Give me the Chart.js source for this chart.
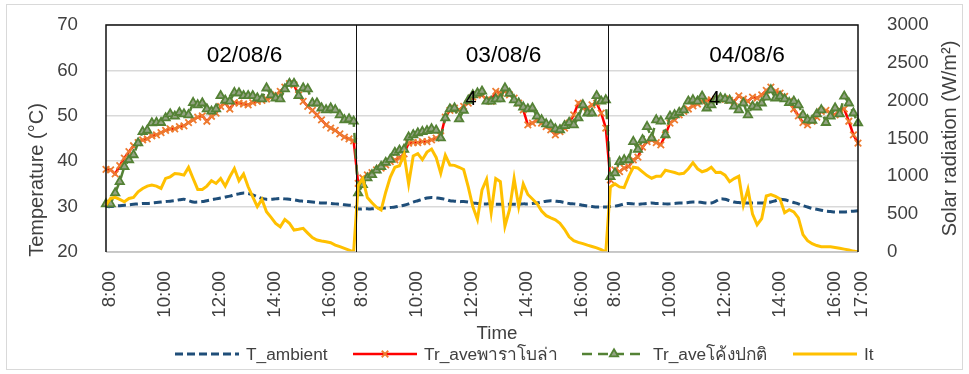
<!DOCTYPE html>
<html>
<head>
<meta charset="utf-8">
<script src="https://cdn.jsdelivr.net/npm/chart.js@4.4.1/dist/chart.umd.min.js"></script>
<style>
  html, body { margin: 0; padding: 0; background: #ffffff; }
  #wrap { width: 969px; height: 374px; }
</style>
</head>
<body>
<div id="wrap"><canvas id="c" width="969" height="374"></canvas></div>
<script>
// ---- data: three days of 10-minute readings, 8:00 to 17:00 ----
const days = ['02/08/6', '03/08/6', '04/08/6'];

const dayTimes = [
  '8:00', '8:10', '8:20', '8:30', '8:40', '8:50',
  '9:00', '9:10', '9:20', '9:30', '9:40', '9:50',
  '10:00', '10:10', '10:20', '10:30', '10:40', '10:50',
  '11:00', '11:10', '11:20', '11:30', '11:40', '11:50',
  '12:00', '12:10', '12:20', '12:30', '12:40', '12:50',
  '13:00', '13:10', '13:20', '13:30', '13:40', '13:50',
  '14:00', '14:10', '14:20', '14:30', '14:40', '14:50',
  '15:00', '15:10', '15:20', '15:30', '15:40', '15:50',
  '16:00', '16:10', '16:20', '16:30', '16:40', '16:50',
  '17:00'
];

// times that carry a label on the time axis
const tickTimes = ['8:00', '10:00', '12:00', '14:00', '16:00'];
const closingTime = '17:00';

// ambient temperature (°C)
const ambient1 = [
  30.0, 30.0, 30.1, 30.2, 30.3, 30.4, 30.5, 30.6, 30.7, 30.7,
  30.8, 30.9, 31.0, 31.1, 31.2, 31.3, 31.5, 31.6, 31.3, 31.0,
  31.0, 31.1, 31.3, 31.5, 31.7, 31.9, 32.1, 32.3, 32.6, 32.8,
  33.0, 32.9, 32.6, 32.2, 31.8, 31.6, 31.6, 31.7, 31.8, 31.7,
  31.6, 31.5, 31.3, 31.2, 31.1, 31.0, 30.9, 30.8, 30.8, 30.7,
  30.6, 30.5, 30.4, 30.3, 30.2
];
const ambient2 = [
  29.5, 29.5, 29.5, 29.5, 29.6, 29.6, 29.7, 29.8, 29.9, 30.1,
  30.3, 30.6, 31.0, 31.3, 31.6, 31.9, 32.0, 31.9, 31.8, 31.6,
  31.3, 31.2, 31.1, 31.1, 31.0, 30.8, 30.7, 30.6, 30.6, 30.6,
  30.5, 30.5, 30.5, 30.5, 30.5, 30.5, 30.6, 30.6, 30.7, 30.8,
  31.0, 31.2, 31.3, 31.2, 31.1, 30.9, 30.7, 30.6, 30.5, 30.3,
  30.1, 30.0, 29.9, 29.9, 29.9
];
const ambient3 = [
  30.0, 30.1, 30.3, 30.6, 30.7, 30.6, 30.5, 30.6, 30.7, 30.8,
  30.7, 30.7, 30.6, 30.6, 30.7, 30.8, 30.8, 30.9, 31.0, 31.0,
  30.9, 30.8, 30.8, 31.2, 31.7, 31.6, 31.3, 31.0, 30.9, 30.8,
  30.8, 30.8, 30.8, 30.8, 30.9, 31.0, 31.3, 31.6, 31.5, 31.2,
  30.9, 30.6, 30.2, 29.9, 29.6, 29.4, 29.2, 29.0, 28.9, 28.8,
  28.8, 28.8, 28.9, 29.0, 29.1
];

// average receiver temperature, parabolic trough (°C)
const parabola1 = [
  38.2, 38.1, 37.2, 39.0, 40.7, 42.1, 43.4, 44.1, 44.7, 44.9,
  45.6, 45.8, 46.3, 46.8, 47.1, 47.1, 47.6, 47.8, 48.5, 49.1,
  49.7, 50.0, 48.8, 49.9, 50.6, 52.1, 52.8, 51.5, 52.9, 52.8,
  52.6, 52.4, 52.9, 53.2, 53.4, 53.7, 54.1, 54.6, 55.4, 56.3,
  57.1, 56.8, 54.6, 53.2, 52.1, 51.2, 50.2, 49.1, 48.0, 47.3,
  46.8, 46.0, 45.3, 44.9, 44.5
];
const parabola2 = [
  35.1, 36.3, 37.0, 37.5, 38.1, 38.5, 39.2, 39.9, 40.3, 40.7,
  41.6, 44.0, 44.1, 44.1, 44.3, 44.3, 44.7, 45.1, 45.6, 49.7,
  51.2, 51.7, 51.3, 52.1, 52.8, 54.1, 54.6, 54.6, 53.5, 53.2,
  55.4, 55.0, 55.4, 54.6, 53.9, 52.8, 51.3, 48.0, 48.4, 49.1,
  48.4, 47.6, 46.9, 45.8, 46.5, 47.3, 48.4, 50.2, 52.8, 51.7,
  51.7, 52.4, 52.8, 50.6, 47.3
];
const parabola3 = [
  35.9, 38.1, 37.7, 38.5, 38.8, 40.3, 40.9, 43.1, 44.3, 44.7,
  44.1, 43.6, 45.8, 48.4, 49.1, 50.2, 51.0, 51.5, 52.2, 52.6,
  53.2, 53.4, 53.5, 53.7, 53.7, 53.7, 53.4, 53.2, 54.4, 53.7,
  53.2, 54.1, 53.9, 54.6, 55.6, 56.3, 55.4, 55.0, 54.3, 53.2,
  51.5, 50.0, 48.5, 48.0, 48.8, 49.7, 51.0, 51.2, 50.6, 50.2,
  51.3, 51.5, 48.8, 45.8, 44.0
];

// average receiver temperature, ordinary curved trough (°C)
const normal1 = [
  30.6, 30.6, 33.0, 35.5, 38.8, 40.3, 41.4, 44.0, 46.5, 46.8,
  48.4, 48.5, 48.5, 49.5, 50.4, 49.9, 50.7, 50.4, 50.2, 52.9,
  52.4, 52.8, 51.5, 51.0, 51.5, 54.4, 53.4, 53.2, 55.1, 55.0,
  54.4, 54.4, 54.4, 53.9, 53.7, 56.1, 54.6, 53.9, 53.7, 55.9,
  57.1, 57.1, 54.4, 56.1, 55.9, 52.8, 52.8, 51.7, 51.3, 51.7,
  51.3, 50.2, 49.1, 49.3, 48.8
];
const normal2 = [
  33.0, 34.8, 36.3, 37.0, 38.0, 38.8, 39.7, 40.4, 41.9, 42.4,
  42.6, 45.3, 45.8, 46.2, 46.5, 46.7, 47.1, 46.8, 45.1, 49.5,
  51.5, 51.7, 49.3, 51.2, 53.4, 54.6, 55.0, 55.4, 53.2, 53.2,
  53.7, 53.7, 56.1, 54.9, 53.5, 52.8, 51.9, 51.5, 51.7, 49.9,
  49.1, 48.2, 48.0, 47.1, 46.9, 47.8, 48.5, 48.0, 49.5, 52.4,
  50.6, 50.6, 54.4, 53.2, 53.5
];
const normal3 = [
  36.6, 37.4, 39.9, 40.3, 40.3, 44.3, 42.6, 44.7, 47.6, 45.1,
  49.1, 48.8, 45.8, 49.9, 50.2, 50.7, 51.3, 53.2, 53.5, 53.2,
  54.3, 51.7, 52.4, 53.5, 53.9, 53.7, 53.4, 52.1, 51.3, 52.8,
  50.2, 52.1, 51.9, 52.8, 54.1, 55.7, 53.9, 54.3, 53.7, 52.9,
  53.2, 52.4, 50.2, 49.1, 49.0, 50.4, 51.3, 48.5, 49.9, 51.7,
  50.4, 54.3, 52.8, 50.6, 48.4
];

// solar radiation It (W/m²)
const radiation1 = [
  620, 708, 722, 695, 664, 708, 722, 796, 840, 871,
  884, 871, 840, 972, 994, 1038, 1030, 1016, 1118, 972,
  827, 827, 871, 942, 906, 972, 871, 994, 1104, 942,
  1030, 862, 730, 600, 695, 532, 458, 378, 334, 431,
  380, 290, 300, 312, 250, 190, 158, 145, 136, 123,
  92, 70, 48, 26, 0
];
const radiation2 = [
  880, 970, 720, 650, 590, 555, 790, 990, 1120, 1140,
  1290, 900, 1270, 1300, 1220, 1320, 1360, 1250, 1040, 1280,
  1150, 1145, 1120, 1090, 860, 600, 430, 820, 960, 520,
  970, 930, 340, 560, 970, 600, 900, 760, 700, 640,
  540, 480, 450, 425, 380, 300, 200, 150, 128, 110,
  90, 72, 55, 30, 0
];
const radiation3 = [
  860, 900, 860, 850, 1000, 1120, 1110, 1060, 1010, 975,
  1000, 1000, 1080, 1065, 1050, 1030, 1040, 1100, 1180, 1100,
  1060, 1080, 1120, 1050, 1055, 1015, 930, 970, 1000, 620,
  830, 500, 360, 440, 740, 760, 735, 700, 520, 560,
  530, 450, 230, 150, 110, 85, 70, 70, 68, 60,
  50, 38, 26, 12, 0
];

// ---- series assembled across the three days ----
const categories = [...dayTimes, ...dayTimes, ...dayTimes];
const ambient = [...ambient1, ...ambient2, ...ambient3];
const parabola = [...parabola1, ...parabola2, ...parabola3];
const normal = [...normal1, ...normal2, ...normal3];
const radiation = [...radiation1, ...radiation2, ...radiation3];

// ---- drawing ----
const FONT = "'Liberation Sans', Arial, 'Noto Sans', 'DejaVu Sans', sans-serif";
const TEXT = '#404040';
Chart.defaults.font.family = FONT;
Chart.defaults.color = TEXT;

// where the per-day captions sit (category index, temperature value)
const dayCaptionAt = [30.2, 86.7, 139.8];
const dayCaptionTemp = 63.2;
const stray = [{ text: '4', at: 79.6, temp: 53.7 }, { text: '4', at: 132.7, temp: 53.7 }];

// fixed-size axis boxes, no extra label padding around the plot
const fixWidth = w => s => { s.width = w; s.paddingTop = 0; s.paddingBottom = 0; };

const frame = {
  id: 'frame',
  beforeDraw(chart) {
    const { ctx, width, height } = chart;
    ctx.save();
    ctx.fillStyle = '#ffffff';
    ctx.fillRect(0, 0, width, height);
    ctx.strokeStyle = '#D9D9D9';
    ctx.lineWidth = 1;
    ctx.strokeRect(6.5, 4.5, width - 13, height - 9);
    ctx.restore();
  },
  afterDatasetsDraw(chart) {
    const { ctx, chartArea: a, scales: { x } } = chart;
    ctx.save();
    // axis line along the bottom
    ctx.strokeStyle = '#BFBFBF';
    ctx.lineWidth = 1.5;
    ctx.beginPath();
    ctx.moveTo(a.left, a.bottom);
    ctx.lineTo(a.right, a.bottom);
    ctx.stroke();
    // plot outline
    ctx.strokeStyle = '#111111';
    ctx.lineWidth = 1.5;
    ctx.beginPath();
    ctx.moveTo(a.left, a.bottom);
    ctx.lineTo(a.left, a.top);
    ctx.lineTo(a.right, a.top);
    ctx.lineTo(a.right, a.bottom);
    ctx.stroke();
    // day separators
    ctx.lineWidth = 1;
    const per = dayTimes.length;
    for (let d = 1; d < days.length; d++) {
      const px = Math.round((x.getPixelForValue(d * per - 1) + x.getPixelForValue(d * per)) / 2) + 0.5;
      ctx.beginPath();
      ctx.moveTo(px, a.top);
      ctx.lineTo(px, a.bottom);
      ctx.stroke();
    }
    ctx.restore();
  },
  afterDraw(chart) {
    const { ctx, chartArea: a, scales: { x, y } } = chart;
    ctx.save();
    ctx.fillStyle = '#000000';
    ctx.textAlign = 'center';
    ctx.textBaseline = 'middle';
    ctx.font = '22.7px ' + FONT;
    days.forEach((d, i) => ctx.fillText(d, x.getPixelForValue(dayCaptionAt[i]), y.getPixelForValue(dayCaptionTemp)));
    ctx.font = '20px ' + FONT;
    stray.forEach(s => ctx.fillText(s.text, x.getPixelForValue(s.at), y.getPixelForValue(s.temp)));

    // axis titles
    ctx.fillStyle = TEXT;
    ctx.font = '20px ' + FONT;
    ctx.save();
    ctx.translate(a.left - 69, a.top + 155);
    ctx.rotate(-Math.PI / 2);
    ctx.fillText('Temperature (°C)', 0, 0);
    ctx.restore();
    ctx.save();
    ctx.translate(a.right + 92, (a.top + a.bottom) / 2);
    ctx.rotate(-Math.PI / 2);
    ctx.fillText('Solar radiation (W/m²)', 0, 0);
    ctx.restore();
    ctx.font = '18.7px ' + FONT;
    ctx.fillText('Time', 497, a.bottom + 82);

    // legend
    const ys = 354;
    const starts = [175, 353, 582, 793];
    const sample = 64;
    ctx.font = '17.3px ' + FONT;
    ctx.textAlign = 'left';
    chart.data.datasets.forEach((ds, i) => {
      const x0 = starts[i];
      ctx.save();
      ctx.strokeStyle = ds.borderColor;
      ctx.lineWidth = ds.borderWidth;
      ctx.setLineDash(ds.borderDash || []);
      ctx.beginPath();
      ctx.moveTo(x0, ys);
      ctx.lineTo(x0 + sample, ys);
      ctx.stroke();
      ctx.setLineDash([]);
      if (ds.pointRadius > 0) {
        ctx.fillStyle = ds.pointBackgroundColor || ds.pointBorderColor;
        ctx.strokeStyle = ds.pointBorderColor;
        ctx.lineWidth = ds.pointBorderWidth;
        Chart.helpers.drawPoint(ctx, { pointStyle: ds.pointStyle, radius: ds.pointRadius, rotation: 0, borderWidth: ds.pointBorderWidth }, x0 + sample / 2, ys);
      }
      ctx.restore();
      ctx.fillStyle = TEXT;
      ctx.fillText(ds.label, x0 + sample + 7, ys + 1);
    });
    ctx.restore();
  }
};

new Chart(document.getElementById('c'), {
  type: 'line',
  data: {
    labels: categories,
    datasets: [
      {
        label: 'T_ambient', data: ambient, yAxisID: 'y',
        borderColor: '#1F4E79', borderWidth: 3, borderDash: [8, 4],
        pointRadius: 0, tension: 0.3, order: 4
      },
      {
        label: 'Tr_aveพาราโบล่า', data: parabola, yAxisID: 'y',
        borderColor: '#FF0000', borderWidth: 2.5,
        pointStyle: 'crossRot', pointRadius: 4.6, pointBorderColor: '#ED7D31',
        pointBackgroundColor: '#ED7D31', pointBorderWidth: 1.8, order: 3
      },
      {
        label: 'Tr_aveโค้งปกติ', data: normal, yAxisID: 'y',
        borderColor: '#548235', borderWidth: 2.5, borderDash: [10, 6],
        pointStyle: 'triangle', pointRadius: 4.8, pointBorderColor: '#548235',
        pointBackgroundColor: '#94A384', pointBorderWidth: 1.8, order: 2
      },
      {
        label: 'It', data: radiation, yAxisID: 'y2',
        borderColor: '#FFC000', borderWidth: 3, pointRadius: 0, order: 1
      }
    ]
  },
  options: {
    responsive: false,
    animation: false,
    events: [],
    layout: { padding: { top: 25, left: 0, right: 0, bottom: 0 } },
    plugins: { legend: { display: false }, tooltip: { enabled: false } },
    scales: {
      x: {
        type: 'category',
        offset: false,
        grid: { display: false, drawTicks: false },
        border: { display: false },
        ticks: {
          autoSkip: false, maxRotation: 90, minRotation: 90, padding: 19, labelOffset: 4,
          color: TEXT, font: { size: 18.7 },
          callback: (v, i) => {
            const t = categories[i];
            if (tickTimes.includes(t)) return t;
            if (i === categories.length - 1 && t === closingTime) return t;
            return null;
          }
        },
        afterFit: s => { s.height = 122; s.paddingLeft = 0; s.paddingRight = 0; }
      },
      y: {
        position: 'left', min: 20, max: 70,
        grid: { color: '#D9D9D9', lineWidth: 1.5, drawTicks: false },
        border: { display: false },
        ticks: { stepSize: 10, padding: 28, color: TEXT, font: { size: 18.7 } },
        afterFit: fixWidth(106)
      },
      y2: {
        position: 'right', min: 0, max: 3000,
        grid: { display: false, drawTicks: false },
        border: { display: false },
        ticks: { stepSize: 500, padding: 29, color: TEXT, font: { size: 18.7 }, callback: v => String(v) },
        afterFit: fixWidth(111)
      }
    }
  },
  plugins: [frame]
});
</script>
</body>
</html>
